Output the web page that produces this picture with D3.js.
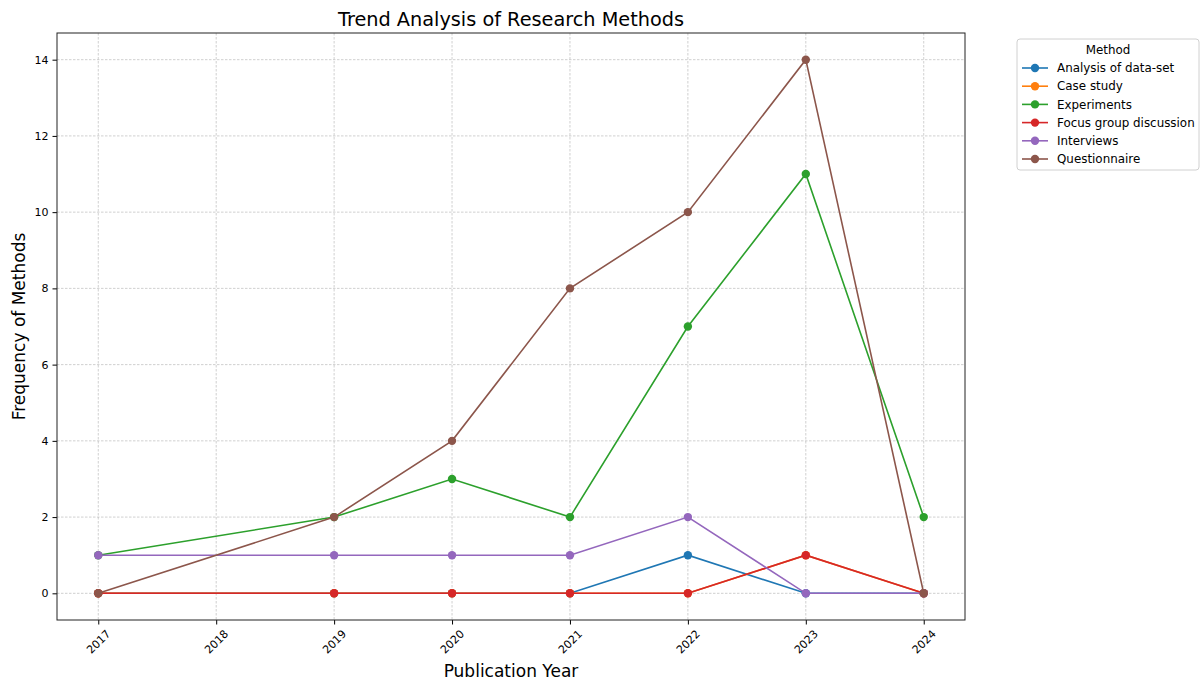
<!DOCTYPE html>
<html>
<head>
<meta charset="utf-8">
<script src="https://cdn.jsdelivr.net/npm/d3@7"></script>
<style>
  body { margin: 0; background: #fff; }
  text { font-family: "DejaVu Sans", sans-serif; fill: #000; }
</style>
</head>
<body>
<div id="chart"></div>
<script>
// Data
const years = [2017, 2019, 2020, 2021, 2022, 2023, 2024];
const tickYears = [2017, 2018, 2019, 2020, 2021, 2022, 2023, 2024];
const methods = ["Analysis of data-set", "Case study", "Experiments", "Focus group discussion", "Interviews", "Questionnaire"];
const analysisData = [0, 0, 0, 0, 1, 0, 0];
const caseStudy = [0, 0, 0, 0, 0, 1, 0];
const experiments = [1, 2, 3, 2, 7, 11, 2];
const focusGroup = [0, 0, 0, 0, 0, 1, 0];
const interviews = [1, 1, 1, 1, 2, 0, 0];
const questionnaire = [0, 2, 4, 8, 10, 14, 0];
const yTicks = [0, 2, 4, 6, 8, 10, 12, 14];
const colors = ["#1f77b4", "#ff7f0e", "#2ca02c", "#d62728", "#9467bd", "#8c564b"];

const series = [analysisData, caseStudy, experiments, focusGroup, interviews, questionnaire]
  .map((vals, i) => ({ name: methods[i], color: colors[i], values: vals.map((v, j) => ({ year: years[j], v: v })) }));

const width = 1203, height = 682;
const margin = { top: 33, right: 238, bottom: 62, left: 57 };

const svg = d3.select("#chart").append("svg")
  .attr("width", width)
  .attr("height", height);

const x = d3.scaleLinear().domain([2016.65, 2024.35]).range([margin.left, width - margin.right]);
const y = d3.scaleLinear().domain([-0.7, 14.7]).range([height - margin.bottom, margin.top]);

// grid
const grid = svg.append("g").attr("class", "grid");
grid.selectAll(".vgrid")
  .data(tickYears)
  .enter().append("line")
  .attr("x1", d => x(d)).attr("x2", d => x(d))
  .attr("y1", margin.top).attr("y2", height - margin.bottom)
  .attr("stroke", "#b0b0b0").attr("stroke-width", 0.6).attr("stroke-dasharray", "2.5,1.5");
grid.selectAll(".hgrid")
  .data(yTicks)
  .enter().append("line")
  .attr("y1", d => y(d)).attr("y2", d => y(d))
  .attr("x1", margin.left).attr("x2", width - margin.right)
  .attr("stroke", "#b0b0b0").attr("stroke-width", 0.6).attr("stroke-dasharray", "2.5,1.5");

// lines
const line = d3.line().x(d => x(d.year)).y(d => y(d.v));
series.forEach(s => {
  const g = svg.append("g");
  g.append("path")
    .datum(s.values)
    .attr("d", line)
    .attr("fill", "none")
    .attr("stroke", s.color)
    .attr("stroke-width", 1.6);
  g.selectAll("circle")
    .data(s.values)
    .enter().append("circle")
    .attr("cx", d => x(d.year))
    .attr("cy", d => y(d.v))
    .attr("r", 4.2)
    .attr("fill", s.color);
});

// axes
const xAxis = svg.append("g")
  .attr("transform", "translate(0," + (height - margin.bottom) + ")")
  .call(d3.axisBottom(x).tickValues(tickYears).tickFormat(d3.format("d")).tickSize(4.5).tickSizeOuter(0));
xAxis.select(".domain").remove();
xAxis.selectAll("text")
  .attr("font-size", 11)
  .attr("font-family", "DejaVu Sans")
  .attr("text-anchor", "middle")
  .attr("dominant-baseline", "central")
  .attr("dy", null)
  .attr("y", 0)
  .attr("transform", "translate(0,22) rotate(-45)");

const yAxis = svg.append("g")
  .attr("transform", "translate(" + margin.left + ",0)")
  .call(d3.axisLeft(y).tickValues(yTicks).tickSize(4.5).tickPadding(4));
yAxis.select(".domain").remove();
yAxis.selectAll("text").attr("font-size", 11).attr("font-family", "DejaVu Sans");

// frame
svg.append("rect")
  .attr("x", margin.left).attr("y", margin.top)
  .attr("width", width - margin.right - margin.left)
  .attr("height", height - margin.bottom - margin.top)
  .attr("fill", "none").attr("stroke", "#222").attr("stroke-width", 1);

// titles
svg.append("text")
  .attr("x", (margin.left + width - margin.right) / 2)
  .attr("y", 26)
  .attr("text-anchor", "middle")
  .attr("font-size", 19.3)
  .text("Trend Analysis of Research Methods");

svg.append("text")
  .attr("x", (margin.left + width - margin.right) / 2)
  .attr("y", 677)
  .attr("text-anchor", "middle")
  .attr("font-size", 17)
  .text("Publication Year");

svg.append("text")
  .attr("transform", "translate(25," + ((margin.top + height - margin.bottom) / 2) + ") rotate(-90)")
  .attr("text-anchor", "middle")
  .attr("font-size", 17)
  .text("Frequency of Methods");

// legend
const lg = svg.append("g").attr("transform", "translate(1017,39)");
lg.append("rect")
  .attr("width", 182).attr("height", 131).attr("rx", 3)
  .attr("fill", "#fff").attr("stroke", "#d0d0d0").attr("stroke-width", 1);
lg.append("text")
  .attr("x", 91).attr("y", 15)
  .attr("text-anchor", "middle")
  .attr("font-size", 11.9)
  .text("Method");
const items = lg.selectAll(".item")
  .data(series)
  .enter().append("g")
  .attr("transform", (d, i) => "translate(0," + (29 + i * 18.2) + ")");
items.append("line")
  .attr("x1", 5).attr("x2", 31)
  .attr("stroke", d => d.color).attr("stroke-width", 1.6);
items.append("circle")
  .attr("cx", 18).attr("r", 4.2).attr("fill", d => d.color);
items.append("text")
  .attr("x", 40).attr("dy", "0.35em")
  .attr("font-size", 11.9)
  .text(d => d.name);
</script>
</body>
</html>
